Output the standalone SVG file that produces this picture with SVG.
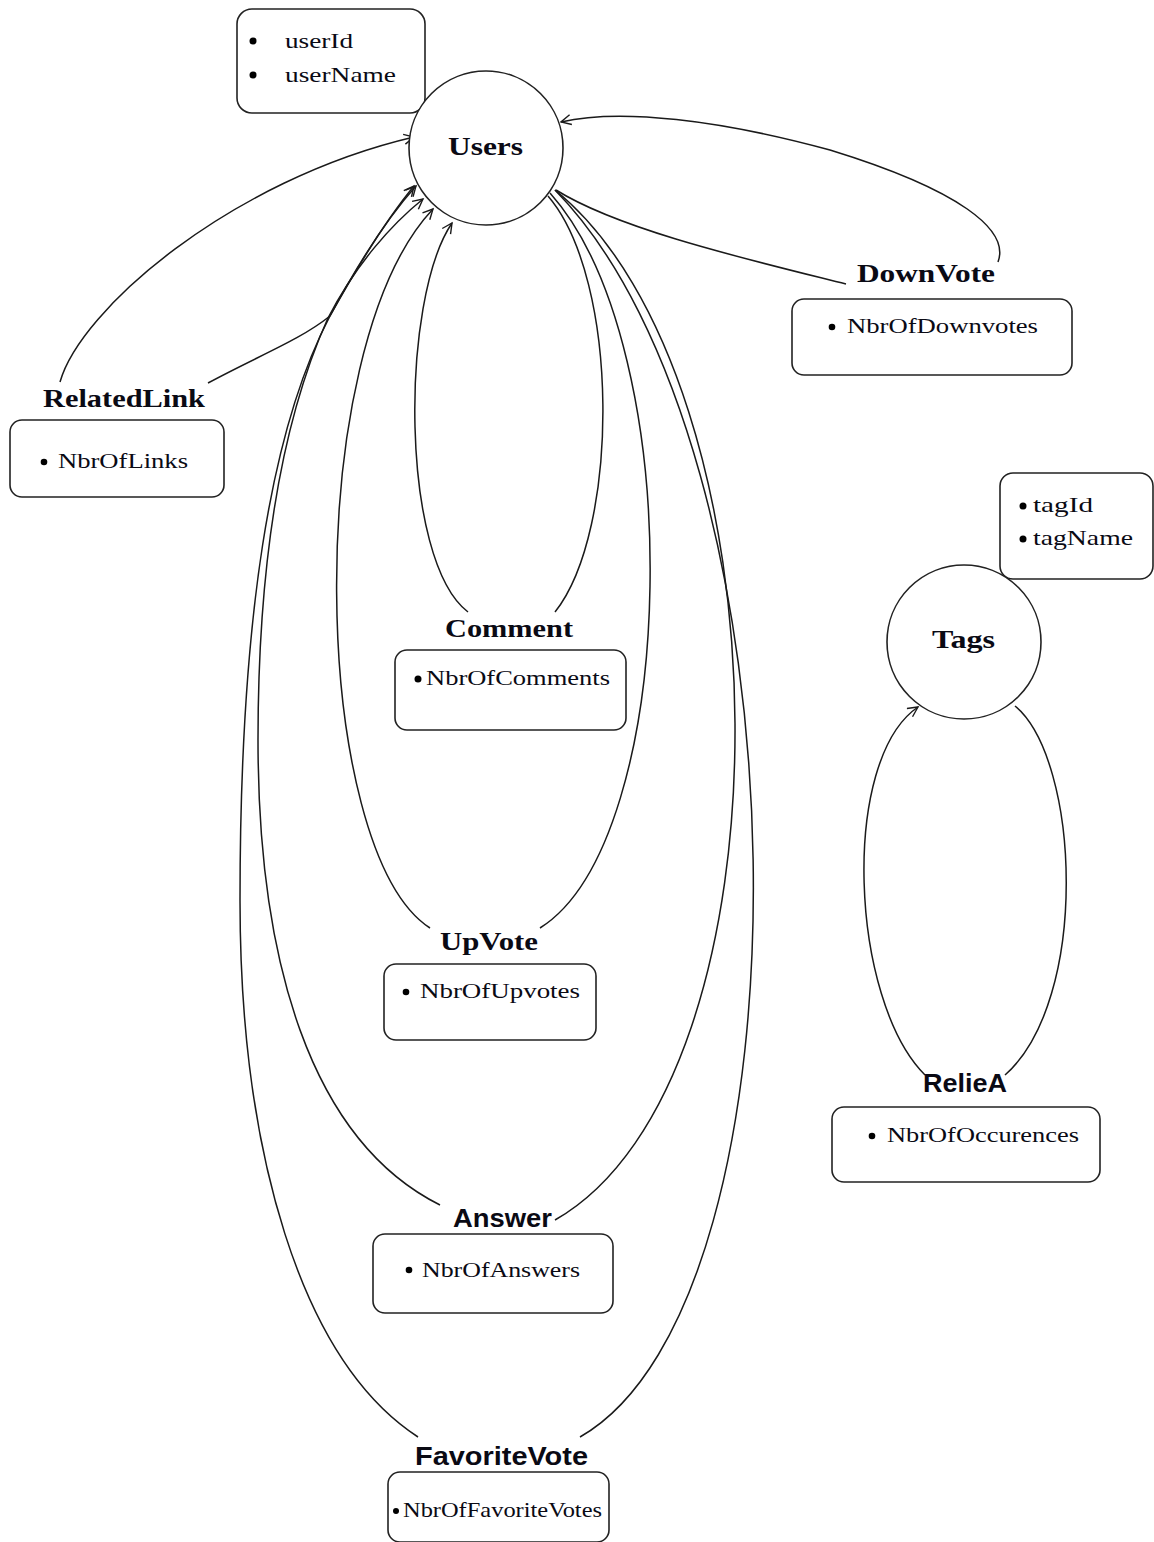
<svg xmlns="http://www.w3.org/2000/svg" width="1154" height="1542" viewBox="0 0 1154 1542">
<style>
.bg{fill:#fff}
.ent{fill:#fff;stroke:#222;stroke-width:1.6}
.box{fill:#fff;stroke:#222;stroke-width:1.6}
.ln{fill:none;stroke:#1a1a1a;stroke-width:1.5}
.lblS{font-family:"Liberation Serif",serif;font-weight:bold;font-size:26px;fill:#0a0a14}
.lblA{font-family:"Liberation Sans",Arial,sans-serif;font-weight:bold;font-size:26px;fill:#0a0a14}
.txt{font-family:"Liberation Serif",serif;font-size:21px;fill:#0a0a14}
.dot{fill:#000}
</style>
<defs>
<marker id="arr" markerUnits="userSpaceOnUse" markerWidth="14" markerHeight="14" refX="11" refY="6" orient="auto">
<path d="M1,1 L11,6 L1,11" fill="none" stroke="#1a1a1a" stroke-width="1.4"/>
</marker>
</defs>
<rect class="bg" x="0" y="0" width="1154" height="1542"/>

<g id="connectors">
<!-- RelatedLink -->
<path class="ln" d="M60 382 C80 310 230 180 414 137" marker-end="url(#arr)"/>
<path class="ln" d="M208 383 C260 355 300 340 330 316 C360 262 390 215 414 186" marker-end="url(#arr)"/>
<!-- Comment -->
<path class="ln" d="M468 612 C400 560 400 300 452 223" marker-end="url(#arr)"/>
<path class="ln" d="M555 612 C620 530 620 280 548 196"/>
<!-- UpVote -->
<path class="ln" d="M430 928 C310 850 300 350 433 209" marker-end="url(#arr)"/>
<path class="ln" d="M540 928 C680 840 690 350 550 193"/>
<!-- Answer -->
<path class="ln" d="M440 1205 C310 1140 258 960 258 740 C258 560 282 420 328 318 C356 264 392 224 423 199" marker-end="url(#arr)"/>
<path class="ln" d="M555 1220 C800 1080 790 380 555 190"/>
<!-- FavoriteVote -->
<path class="ln" d="M418 1437 C300 1360 240 1150 240 900 C240 620 270 430 330 316 C360 260 390 215 416 186" marker-end="url(#arr)"/>
<path class="ln" d="M580 1437 C820 1300 810 450 555 190"/>
<!-- DownVote -->
<path class="ln" d="M846 284 C750 260 620 230 556 190"/>
<path class="ln" d="M998 262 C1010 230 960 190 830 150 C720 120 620 108 561 122" marker-end="url(#arr)"/>
<!-- RelieA -->
<path class="ln" d="M925 1075 C850 1000 840 760 918 707" marker-end="url(#arr)"/>
<path class="ln" d="M1005 1075 C1090 1000 1080 760 1015 706"/>
</g>

<g id="users-attrs">
<rect class="box" x="237" y="9" width="188" height="104" rx="15"/>
<circle class="dot" cx="253" cy="41" r="3.5"/>
<text class="txt" x="285" y="48" textLength="68" lengthAdjust="spacingAndGlyphs">userId</text>
<circle class="dot" cx="253" cy="75" r="3.5"/>
<text class="txt" x="285" y="82" textLength="111" lengthAdjust="spacingAndGlyphs">userName</text>
</g>

<g id="users">
<circle class="ent" cx="486" cy="148" r="77"/>
<text class="lblS" x="448" y="155" textLength="75" lengthAdjust="spacingAndGlyphs">Users</text>
</g>

<g id="downvote">
<text class="lblS" x="857" y="282" textLength="138" lengthAdjust="spacingAndGlyphs">DownVote</text>
<rect class="box" x="792" y="299" width="280" height="76" rx="12"/>
<circle class="dot" cx="832" cy="327" r="3.3"/>
<text class="txt" x="847" y="333" textLength="191" lengthAdjust="spacingAndGlyphs">NbrOfDownvotes</text>
</g>

<g id="relatedlink">
<text class="lblS" x="43" y="407" textLength="162" lengthAdjust="spacingAndGlyphs">RelatedLink</text>
<rect class="box" x="10" y="420" width="214" height="77" rx="12"/>
<circle class="dot" cx="44" cy="462" r="3.3"/>
<text class="txt" x="58" y="468" textLength="130" lengthAdjust="spacingAndGlyphs">NbrOfLinks</text>
</g>

<g id="comment">
<text class="lblS" x="445" y="637" textLength="128" lengthAdjust="spacingAndGlyphs">Comment</text>
<rect class="box" x="395" y="650" width="231" height="80" rx="12"/>
<circle class="dot" cx="418" cy="679" r="3.5"/>
<text class="txt" x="426" y="685" textLength="184" lengthAdjust="spacingAndGlyphs">NbrOfComments</text>
</g>

<g id="upvote">
<text class="lblS" x="440" y="950" textLength="98" lengthAdjust="spacingAndGlyphs">UpVote</text>
<rect class="box" x="384" y="964" width="212" height="76" rx="12"/>
<circle class="dot" cx="406" cy="992" r="3.3"/>
<text class="txt" x="420" y="998" textLength="160" lengthAdjust="spacingAndGlyphs">NbrOfUpvotes</text>
</g>

<g id="answer">
<text class="lblA" x="453" y="1227" textLength="99" lengthAdjust="spacingAndGlyphs">Answer</text>
<rect class="box" x="373" y="1234" width="240" height="79" rx="12"/>
<circle class="dot" cx="409" cy="1270" r="3.3"/>
<text class="txt" x="422" y="1277" textLength="158" lengthAdjust="spacingAndGlyphs">NbrOfAnswers</text>
</g>

<g id="favoritevote">
<text class="lblA" x="415" y="1465" textLength="173" lengthAdjust="spacingAndGlyphs">FavoriteVote</text>
<rect class="box" x="388" y="1472" width="221" height="70" rx="12"/>
<circle class="dot" cx="396" cy="1511" r="3"/>
<text class="txt" x="403" y="1517" textLength="199" lengthAdjust="spacingAndGlyphs">NbrOfFavoriteVotes</text>
</g>

<g id="tags-attrs">
<rect class="box" x="1000" y="473" width="153" height="106" rx="13"/>
<circle class="dot" cx="1023" cy="506" r="3.5"/>
<text class="txt" x="1033" y="512" textLength="60" lengthAdjust="spacingAndGlyphs">tagId</text>
<circle class="dot" cx="1023" cy="539" r="3.5"/>
<text class="txt" x="1033" y="545" textLength="100" lengthAdjust="spacingAndGlyphs">tagName</text>
</g>

<g id="tags">
<circle class="ent" cx="964" cy="642" r="77"/>
<text class="lblS" x="932" y="648" textLength="63" lengthAdjust="spacingAndGlyphs">Tags</text>
</g>

<g id="reliea">
<text class="lblA" x="923" y="1092" textLength="84" lengthAdjust="spacingAndGlyphs">RelieA</text>
<rect class="box" x="832" y="1107" width="268" height="75" rx="12"/>
<circle class="dot" cx="872" cy="1136" r="3.3"/>
<text class="txt" x="887" y="1142" textLength="192" lengthAdjust="spacingAndGlyphs">NbrOfOccurences</text>
</g>
</svg>
